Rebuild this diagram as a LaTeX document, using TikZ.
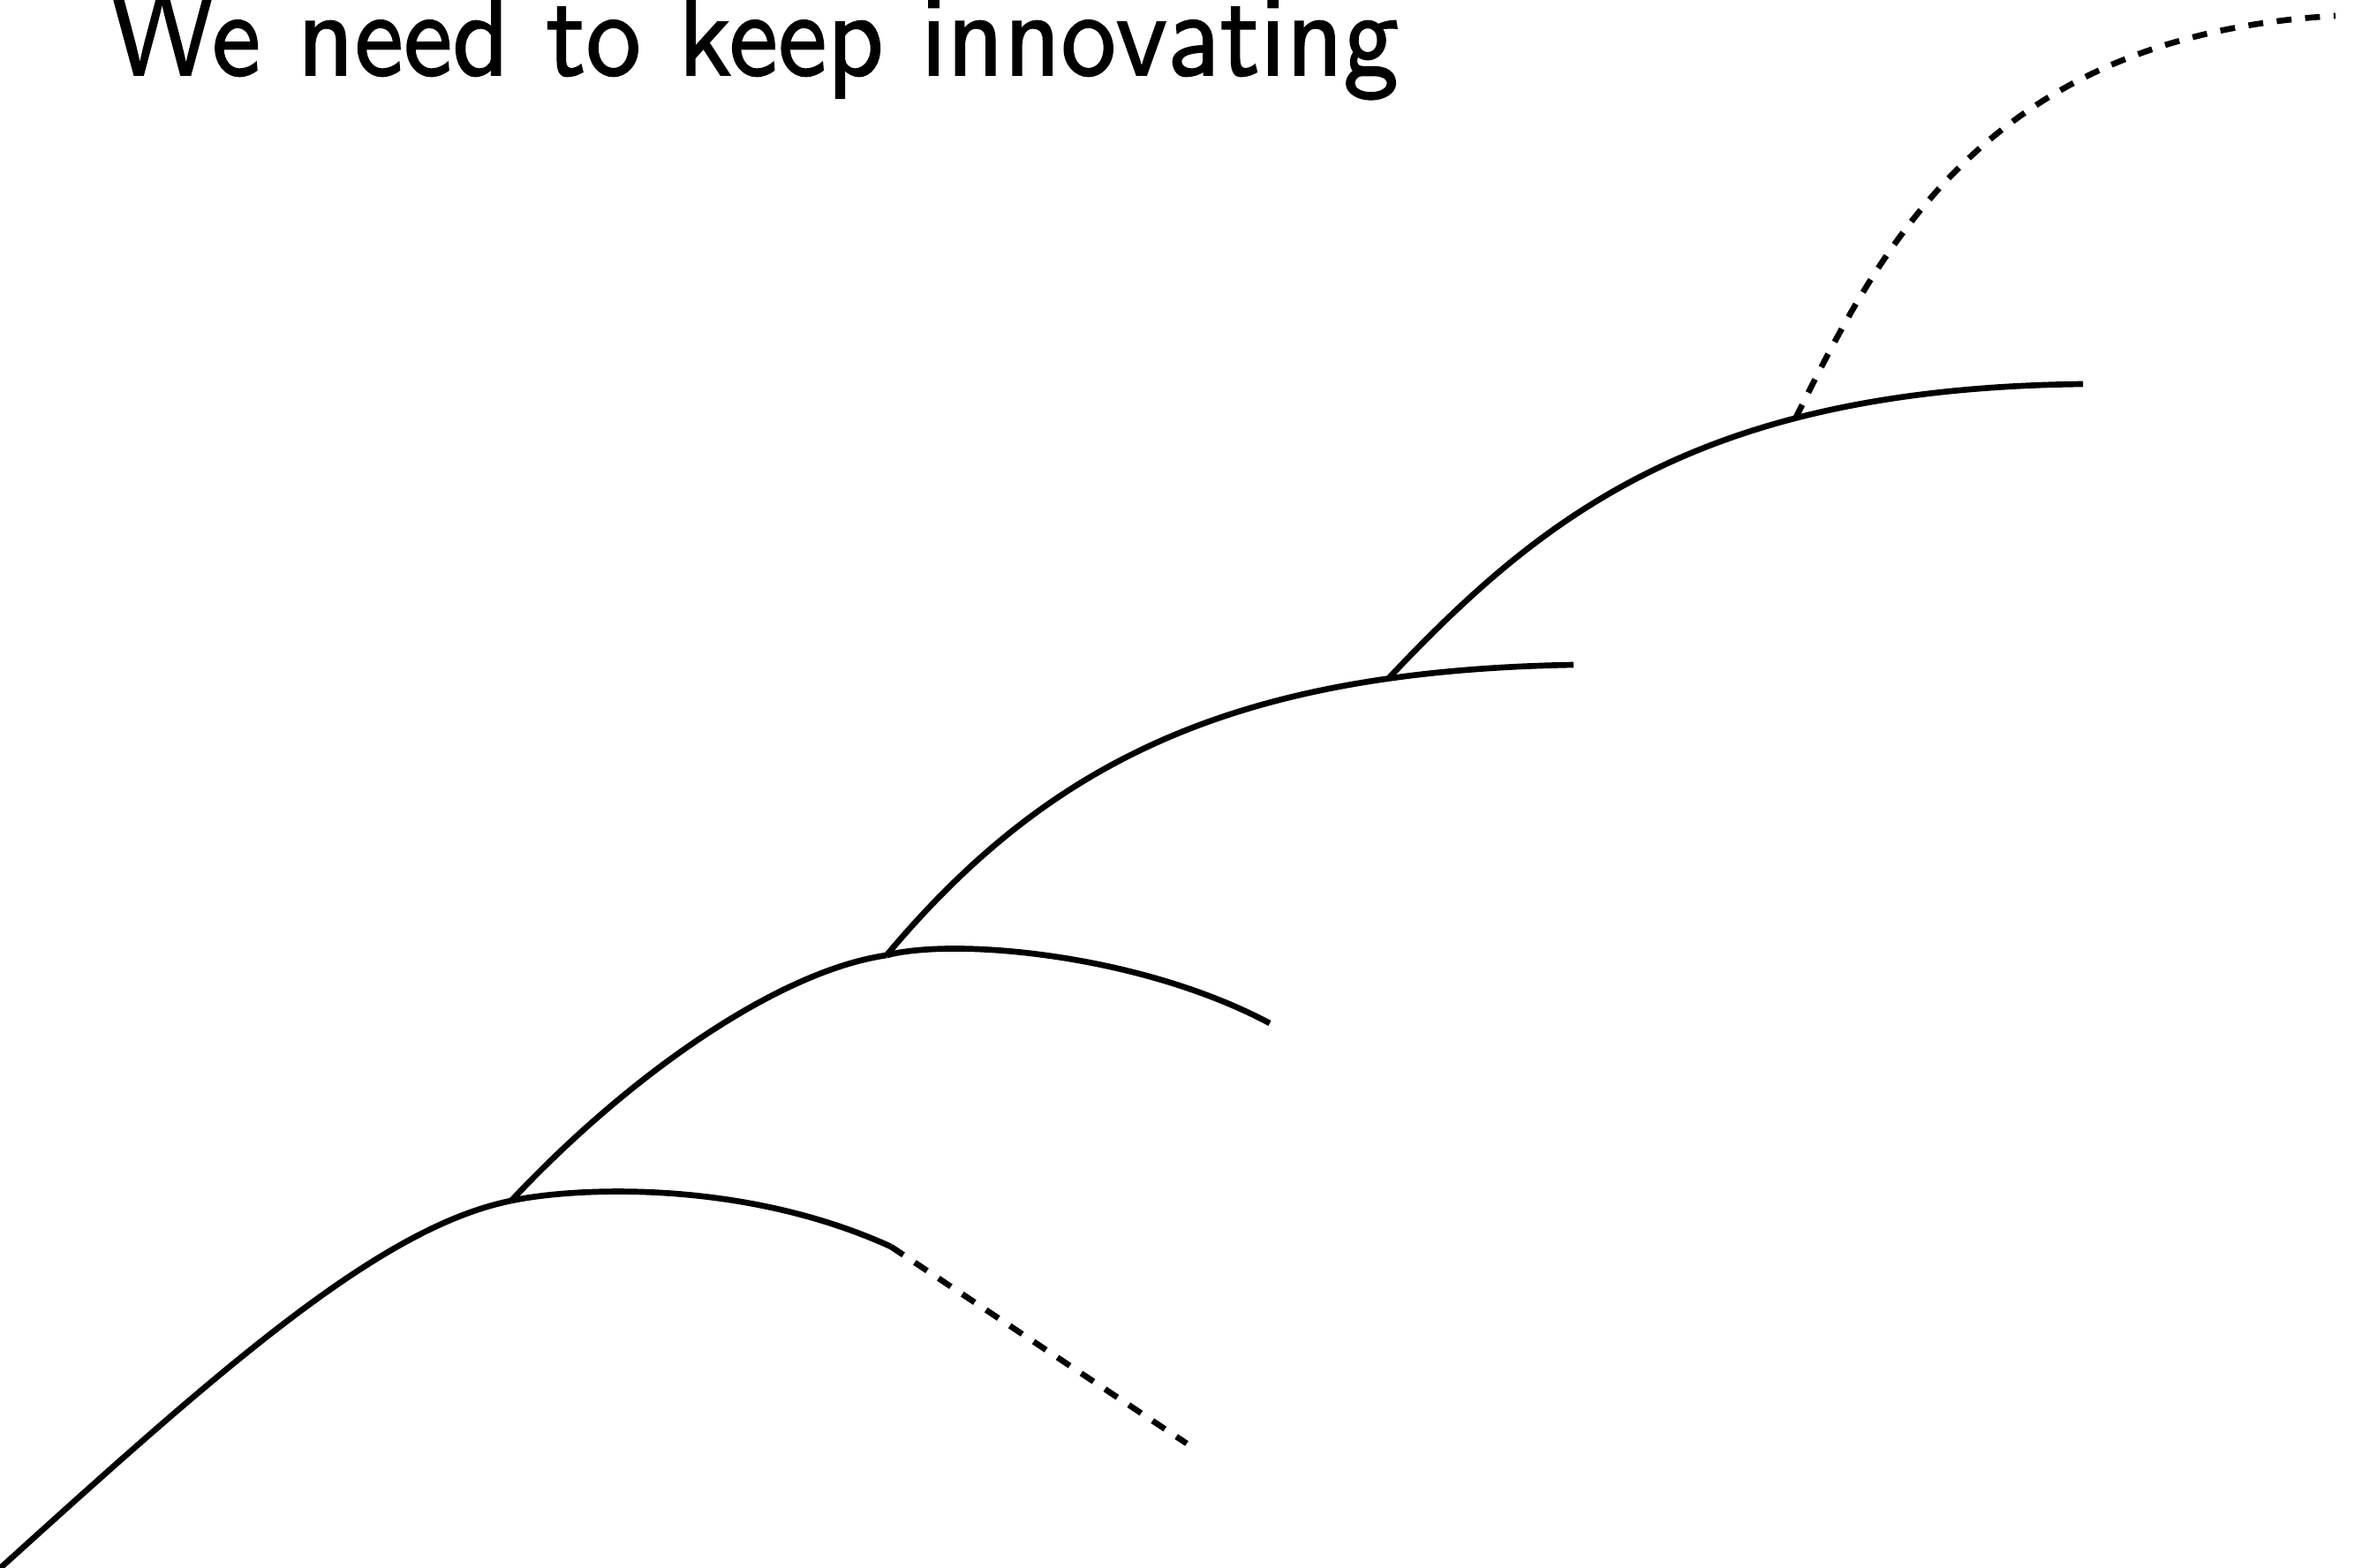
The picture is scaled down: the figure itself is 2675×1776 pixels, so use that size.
\documentclass[tikz,border=0pt]{standalone}
\usepackage{fontspec}
\usepackage{graphicx}
\newfontfamily\titlefont{lmsans10-regular.otf}[FakeBold=1.3]
\begin{document}
\begin{tikzpicture}[x=0.01cm,y=-0.01cm,
  curve/.style={draw=black,line width=1.9pt},
  dashcurve/.style={draw=black,line width=1.9pt,dash pattern=on 4.8pt off 4.4pt},
  titletext/.style={anchor=base west,inner sep=0pt,outer sep=0pt,
    font=\titlefont\fontsize{38.4pt}{46pt}\selectfont}]
\useasboundingbox (0,0) rectangle (2675,1776);
\clip (0,0) rectangle (2675,1776);
% title
\node[titletext] (title) at (125,85) {\resizebox{14.58cm}{\height}{We need to keep innovating}};
% points
\coordinate (s1) at (-4,1780);
\coordinate (j1) at (579,1360);
\coordinate (e1) at (1009,1412);
\coordinate (d1) at (1344,1635);
\coordinate (j2) at (1004,1082);
\coordinate (e2) at (1438,1159);
\coordinate (e3) at (1782,753);
\coordinate (e4) at (2359,435);
\coordinate (d2) at (2645,18);
% first S-curve
\draw[curve] (s1) .. controls (250,1550) and (430,1390) .. (j1);
\draw[curve] (j1) .. controls (650,1345) and (840,1335) .. (e1);
\draw[dashcurve] (e1) -- (d1);
% second
\draw[curve] (j1) .. controls (710,1220) and (880,1100) .. (j2);
\draw[curve] (j2) .. controls (1080,1062) and (1290,1080) .. (e2);
% third
\draw[curve] (j2) .. controls (1190,860) and (1400,760) .. (e3) coordinate[pos=0.8] (j3);
% fourth
\draw[curve] (j3) .. controls (1750,580) and (1930,440) .. (e4) coordinate[pos=0.7] (j4);
% future
\draw[dashcurve] (j4) .. controls (2130,280) and (2250,40) .. (d2);
\end{tikzpicture}
\end{document}
